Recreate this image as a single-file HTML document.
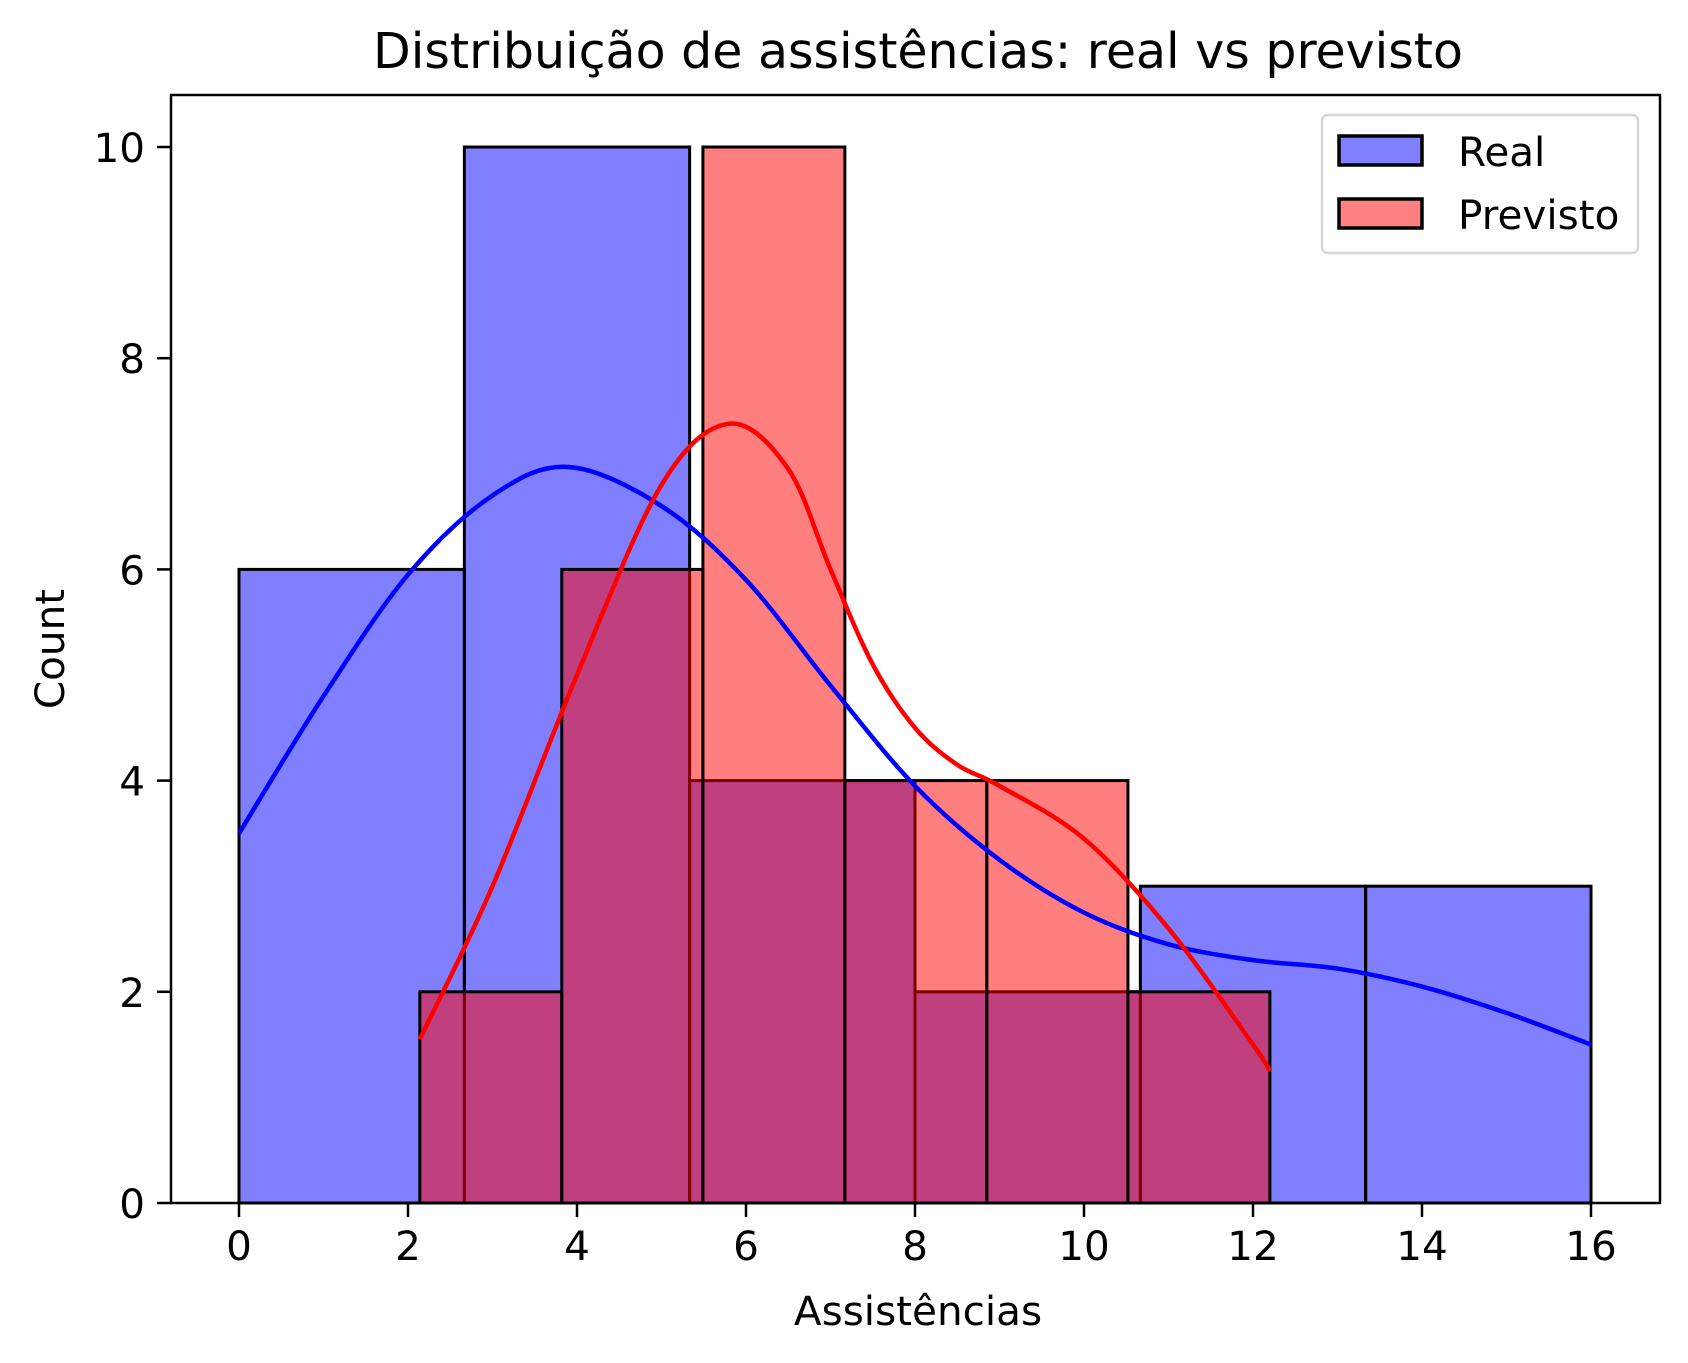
<!DOCTYPE html>
<html><head><meta charset="utf-8"><style>
body{margin:0;background:#fff}
svg{display:block}
text{font-family:"DejaVu Sans","Liberation Sans",sans-serif;fill:#000}
</style></head><body>
<svg id="chart" width="1688" height="1363" viewBox="0 0 1688 1363">
<text x="918" y="68" font-size="49" text-anchor="middle">Distribuição de assistências: real vs previsto</text>
<g id="plot"></g>
<text x="918" y="1325" font-size="40.5" text-anchor="middle">Assistências</text>
<text transform="translate(64,649) rotate(-90)" font-size="40.5" text-anchor="middle">Count</text>
<g>
<rect x="1322" y="115" width="316" height="138" rx="6" fill="#fff" stroke="#d6d6d6" stroke-width="2.5"/>
<rect x="1339" y="136" width="83" height="29" fill="#8080ff" stroke="#000" stroke-width="3.5"/>
<text x="1458" y="166" font-size="40.5">Real</text>
<rect x="1339" y="199" width="83" height="29" fill="#ff8080" stroke="#000" stroke-width="3.5"/>
<text x="1458" y="229" font-size="40.5">Previsto</text>
</g>
</svg>
<script>
const realEdges=[0,2.667,5.333,8,10.667,13.333,16];
const realCounts=[6,10,4,2,3,3];
const prevEdges=[2.14,3.82,5.49,7.17,8.85,10.52,12.2];
const prevCounts=[2,6,10,4,4,2];
const realKdeX=[0,1,2,3,3.9,5,6,7,8,9,10,11,12,13,14,15,16];
const realKdeY=[3.5,4.8,5.95,6.7,6.97,6.6,5.9,4.9,3.95,3.25,2.75,2.45,2.3,2.22,2.05,1.8,1.5];
const prevKdeX=[2.14,3,4,5,5.8,6.5,7,7.5,8,8.5,9,10,11,12,12.2];
const prevKdeY=[1.55,3.0,5.0,6.8,7.38,6.95,6.0,5.1,4.5,4.15,3.95,3.45,2.6,1.5,1.25];
const xTicks=[0,2,4,6,8,10,12,14,16];
const yTicks=[0,2,4,6,8,10];

const L=171,R=1660,T=95,B=1203;
const sx=v=>239+v*84.5;
const sy=v=>1203-v*105.6;
const NS="http://www.w3.org/2000/svg";
const g=document.getElementById('plot');
function mk(tag,attrs){const e=document.createElementNS(NS,tag);for(const k in attrs)e.setAttribute(k,attrs[k]);g.appendChild(e);return e;}
function bars(edges,counts,fill,name){
  counts.forEach((c,i)=>{
    const r=mk('rect',{x:sx(edges[i]),y:sy(c),width:sx(edges[i+1])-sx(edges[i]),height:sy(0)-sy(c),fill:fill,stroke:'#000','stroke-width':3});
    
    
  });
}
function curve(xs,ys,color,name){
  const p=xs.map((x,i)=>[sx(x),sy(ys[i])]);
  let d='M'+p[0][0]+','+p[0][1];
  for(let i=0;i<p.length-1;i++){
    const p0=p[i-1]||p[i],p1=p[i],p2=p[i+1],p3=p[i+2]||p[i+1];
    d+=` C${p1[0]+(p2[0]-p0[0])/6},${p1[1]+(p2[1]-p0[1])/6} ${p2[0]-(p3[0]-p1[0])/6},${p2[1]-(p3[1]-p1[1])/6} ${p2[0]},${p2[1]}`;
  }
  const e=mk('path',{d:d,fill:'none',stroke:color,'stroke-width':4.5});
  
  
}
bars(realEdges,realCounts,'rgba(0,0,255,0.5)','real');
bars(prevEdges,prevCounts,'rgba(255,0,0,0.5)','previsto');
curve(realKdeX,realKdeY,'#0000ff','real-kde-line');
curve(prevKdeX,prevKdeY,'#ff0000','previsto-kde-line');
const fr=mk('rect',{x:L,y:T,width:R-L,height:B-T,fill:'none',stroke:'#000','stroke-width':2.5});


xTicks.forEach(v=>{
  mk('line',{x1:sx(v),x2:sx(v),y1:B,y2:B+14,stroke:'#000','stroke-width':2.5});
  const t=mk('text',{x:sx(v),y:B+57,'font-size':40.5,'text-anchor':'middle'});t.textContent=v;
  
  
});
yTicks.forEach(v=>{
  mk('line',{x1:L-14,x2:L,y1:sy(v),y2:sy(v),stroke:'#000','stroke-width':2.5});
  const t=mk('text',{x:L-26,y:sy(v)+15,'font-size':40.5,'text-anchor':'end'});t.textContent=v;
  
  
});
</script>
</body></html>
